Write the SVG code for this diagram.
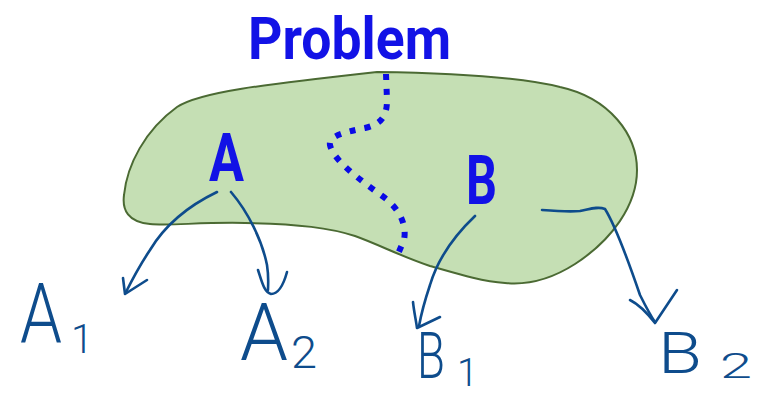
<svg xmlns="http://www.w3.org/2000/svg" width="765" height="394" viewBox="0 0 765 394">
<style>
.bold{font-family:Roboto,"Liberation Sans",sans-serif;font-weight:700;fill:#1212e6}
.hw{font-family:Roboto,"Liberation Sans",sans-serif;font-weight:300;fill:#0e4c8c}
.ink{fill:none;stroke:#0e4c8c;stroke-width:2.6;stroke-linecap:round;stroke-linejoin:round}
</style>
<rect width="765" height="394" fill="#ffffff"/>
<g id="problem-region">
<path d="M 377,72 C 450,73 520,77 560,87 C 610,98 637,135 637,170 C 637,205 612,240 575,264 C 550,280 525,285 505,283 C 480,281 455,273 430,266 C 400,256 380,245 355,236 C 330,228 300,224 245,223 C 200,222 170,226 150,224 C 128,222 122,210 124,195 C 127,165 145,130 177,107 C 200,92 260,85 377,72 Z" fill="#c5dfb4" stroke="#4b6a33" stroke-width="2"/>
<path d="M 386,74 L 387,100 C 387,118 380,124 365,128 C 345,132 328,136 330,145 C 333,160 360,180 385,198 C 400,210 407,225 404,240 L 398,254" fill="none" stroke="#0a0ae6" stroke-width="6" stroke-dasharray="6 9"/>
</g>
<g id="title"><text class="bold" x="248" y="59" font-size="59" textLength="203" lengthAdjust="spacingAndGlyphs">Problem</text></g>
<g id="A"><text class="bold" x="209" y="181" font-size="66" textLength="35" lengthAdjust="spacingAndGlyphs">A</text></g>
<g id="B"><text class="bold" x="466" y="204" font-size="69" textLength="31" lengthAdjust="spacingAndGlyphs">B</text></g>
<g id="connectors">
<path class="ink" d="M 217,192 C 190,205 165,225 150,250 C 140,265 132,280 126,292"/>
<path class="ink" d="M 123,278 L 125,294 L 147,280"/>
<path class="ink" d="M 231,192 C 248,212 262,240 267,265 C 269,278 268,285 268,290"/>
<path class="ink" d="M 258,270 C 262,282 264,292 271,294 C 279,294 284,283 287,272"/>
<path class="ink" d="M 475,216 C 455,235 438,258 430,285 C 425,300 421,315 419,326"/>
<path class="ink" d="M 413,302 C 414,312 416,320 417,328 L 440,317"/>
<path class="ink" d="M 542,210 C 555,211 568,212 580,211 C 590,209 598,206 605,209 C 615,225 628,260 640,295 C 645,305 650,315 655,322"/>
<path class="ink" d="M 630,300 C 640,305 648,314 655,323 L 677,290"/>
</g>
<g id="A1"><text class="hw" x="20" y="343" font-size="84" textLength="42" lengthAdjust="spacingAndGlyphs">A</text><text class="hw" x="71" y="353" font-size="40">1</text></g>
<g id="A2"><text class="hw" x="240" y="360" font-size="80" textLength="48" lengthAdjust="spacingAndGlyphs">A</text><text class="hw" x="291" y="368" font-size="44" textLength="26" lengthAdjust="spacingAndGlyphs">2</text></g>
<g id="B1"><text class="hw" x="417" y="378" font-size="64" textLength="28" lengthAdjust="spacingAndGlyphs">B</text><text class="hw" x="457" y="386" font-size="38">1</text></g>
<g id="B2"><text class="hw" x="658" y="373" font-size="58" textLength="44" lengthAdjust="spacingAndGlyphs">B</text><text class="hw" x="720" y="378" font-size="35" textLength="32" lengthAdjust="spacingAndGlyphs">2</text></g>
</svg>
